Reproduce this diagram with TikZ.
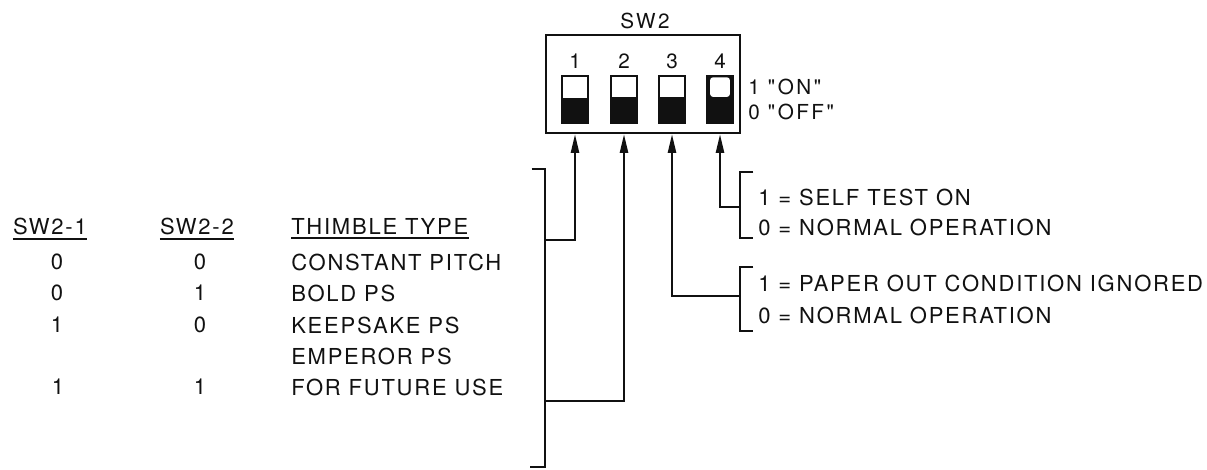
\documentclass[tikz,border=0pt]{standalone}
\usepackage{fontspec}
\setmainfont{TeX Gyre Heros}
\newfontfamily\platefont[LetterSpace=8]{TeX Gyre Heros}
\newfontfamily\keyfont[LetterSpace=12]{TeX Gyre Heros}
\usetikzlibrary{arrows.meta,positioning,calc}
\definecolor{Ink}{HTML}{111111}
\tikzset{
  >={Triangle[length=14pt,width=6pt]},
  wire/.style={draw=Ink,line width=1.7pt},
  sig/.style={wire,->},
  housing/.style={draw=Ink,line width=1.7pt,minimum width=145.5pt,minimum height=73.5pt,inner sep=0pt},
  toggle/.style={draw=Ink,fill=Ink,line width=1.2pt,minimum width=19.5pt,minimum height=35pt,inner sep=0pt},
  lab/.style={font={\platefont\fontsize{16.5}{19}\selectfont},inner sep=0pt,text=Ink},
  txt/.style={lab,anchor=west},
  small/.style={font={\keyfont\fontsize{15.5}{18}\selectfont},inner sep=0pt,text=Ink},
  uline/.style={wire,line width=1.6pt}
}

\begin{document}
\begin{tikzpicture}[x=.75pt,y=-.75pt]
  \useasboundingbox (0,0) rectangle (1207,469);

  % switch housing
  \node[housing] (box) at (643,84) {};
  \node[small] (title) at (645,21) {SW2};
  \node[toggle] (s1) at (575,99.5) {};
  \node[toggle] (s2) at (624,99.5) {};
  \node[toggle] (s3) at (672,99.5) {};
  \node[toggle] (s4) at (720,99.5) {};
  \fill[white] ([shift={(1.2pt,-1.2pt)}]s1.north west) rectangle ([shift={(-1.2pt,1.2pt)}]s1.east);
  \fill[white] ([shift={(1.2pt,-1.2pt)}]s2.north west) rectangle ([shift={(-1.2pt,2pt)}]s2.east);
  \fill[white] ([shift={(1.2pt,-1.2pt)}]s3.north west) rectangle ([shift={(-1.2pt,2pt)}]s3.east);
  \fill[white,rounded corners=2pt] ([shift={(3pt,-1.5pt)}]s4.north west) rectangle ([shift={(-3pt,2pt)}]s4.east);
  \node[small] (n1) at (575,61) {1};
  \node[small] (n2) at (624,61) {2};
  \node[small] (n3) at (672,61) {3};
  \node[small] (n4) at (720,61) {4};
  \node[small,anchor=west] (on) at (748,87) {1 "ON"};
  \node[small,anchor=west] (off) at (748,112) {0 "OFF"};

  % table
  \node[lab] (h1) at (50,226) {SW2-1};
  \node[lab] (h2) at (197,226) {SW2-2};
  \node[txt] (h3) at (291,226) {THIMBLE TYPE};
  \draw[uline] ([yshift=-3pt]h1.south west) -- ([yshift=-3pt]h1.south east);
  \draw[uline] ([yshift=-3pt]h2.south west) -- ([yshift=-3pt]h2.south east);
  \draw[uline] ([yshift=-3pt]h3.south west) -- ([yshift=-3pt]h3.south east);

  \node[lab] (a1) at (57,262) {0};
  \node[lab] (b1) at (200,262) {0};
  \node[txt] (t1) at (291,262) {CONSTANT PITCH};
  \node[lab] (a2) at (57,293) {0};
  \node[lab] (b2) at (200,293) {1};
  \node[txt] (t2) at (291,293) {BOLD PS};
  \node[lab] (a3) at (57,325) {1};
  \node[lab] (b3) at (200,325) {0};
  \node[txt] (t3) at (291,325) {KEEPSAKE PS};
  \node[txt] (t4) at (291,356) {EMPEROR PS};
  \node[lab] (a5) at (58,387) {1};
  \node[lab] (b5) at (200,387) {1};
  \node[txt] (t5) at (291,387) {FOR FUTURE USE};

  % option texts
  \node[txt] (st1) at (758,197) {1 = SELF TEST ON};
  \node[txt] (st0) at (758,227) {0 = NORMAL OPERATION};
  \node[txt] (po1) at (758,283) {1 = PAPER OUT CONDITION IGNORED};
  \node[txt] (po0) at (758,315) {0 = NORMAL OPERATION};

  % brackets
  \coordinate (bt) at (545,169);
  \coordinate (bb) at (545,467);
  \draw[wire] ([xshift=-10pt]bt) -- (bt) -- (bb) -- ([xshift=-11pt]bb);
  \coordinate (ct) at (740,172);
  \coordinate (cb) at (740,238);
  \draw[wire] ([xshift=10pt]ct) -- (ct) -- (cb) -- ([xshift=10pt]cb);
  \coordinate (dt) at (740,267);
  \coordinate (db) at (740,331);
  \draw[wire] ([xshift=10pt]dt) -- (dt) -- (db) -- ([xshift=10pt]db);

  % connectors
  \coordinate (k1) at (545,240);
  \coordinate (k2) at (545,401);
  \coordinate (k3) at (740,296);
  \coordinate (k4) at (740,207);
  \draw[sig] (k1) -- (k1 -| s1) -- (s1 |- box.south);
  \draw[sig] (k2) -- (k2 -| s2) -- (s2 |- box.south);
  \draw[sig] (k3) -- (k3 -| s3) -- (s3 |- box.south);
  \draw[sig] (k4) -- (k4 -| s4) -- (s4 |- box.south);
\end{tikzpicture}
\end{document}
